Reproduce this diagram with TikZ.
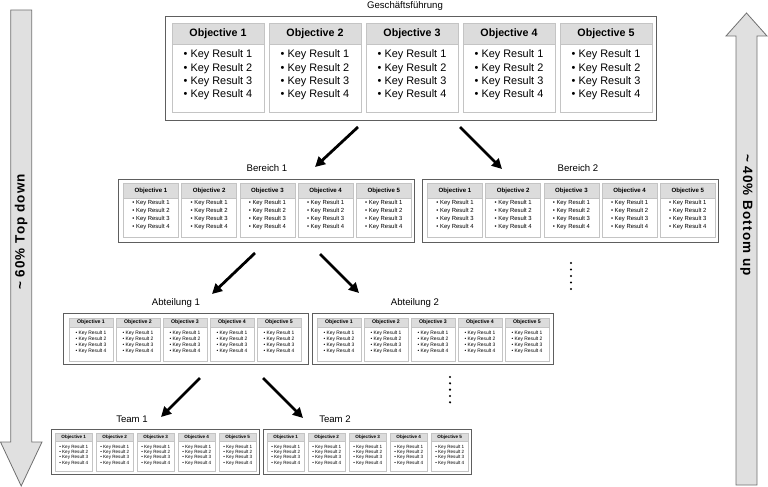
\documentclass[tikz,border=0pt]{standalone}
\usepackage{fontspec}
\setmainfont{Liberation Sans}
\usetikzlibrary{arrows.meta,calc}
\definecolor{hdr}{HTML}{DCDCDC}
\definecolor{cardedge}{HTML}{C4C4C4}
\definecolor{boxedge}{HTML}{5E5E5E}
\definecolor{sidefill}{HTML}{E0E0E0}
\definecolor{sideedge}{HTML}{707070}
\tikzset{
  cardline/.style={draw=cardedge, line width=0.6pt},
  outerbox/.style={draw=boxedge, line width=1.4pt, fill=white, inner sep=0pt, anchor=north west},
  sidearrow/.style={draw=sideedge, line width=0.8pt, fill=sidefill, line join=miter},
  bigarrow/.style={line width=2.8pt, -{Triangle[length=10pt,width=10pt]}},
  grouplabel/.style={font=\fontsize{9.6}{11}\selectfont, inner sep=0pt},
  sidelabel/.style={font=\fontsize{13.5}{15}\selectfont\bfseries\addfontfeatures{LetterSpace=8}, inner sep=0pt},
  dot/.style={circle, fill=black, inner sep=0pt, minimum size=2.4pt}
}
% level parameters
\newcommand\setlevel[9]{\def\Lw{#1}\def\Lp{#2}\def\Lht{#3}\def\Lhb{#4}\def\Lcb{#5}\def\Lhy{#6}\def\Lly{#7}\def\Lfs{#8}\def\Lls{#9}}
\newcommand\okrcards[3]{%
\foreach \i in {1,...,5}{%
 \pgfmathsetmacro\xl{#2+(\i-1)*\Lp}%
 \pgfmathsetmacro\xr{\xl+\Lw}%
 \pgfmathsetmacro\xc{\xl+0.5*\Lw}%
 \pgfmathsetmacro\ya{#3+\Lht}%
 \pgfmathsetmacro\yb{#3+\Lhb}%
 \pgfmathsetmacro\yc{#3+\Lcb}%
 \pgfmathsetmacro\yt{#3+\Lhy}%
 \pgfmathsetmacro\yl{#3+\Lly}%
 \draw[cardline,fill=white] (\xl,\yb) rectangle (\xr,\yc);
 \draw[cardline,fill=hdr] (\xl,\ya) rectangle (\xr,\yb);
 \node[font=\fontsize{\Lhs}{\Lhs}\selectfont\bfseries, inner sep=0pt] (#1h\i) at (\xc,\yt) {Objective \i};
 \node[font=\fontsize{\Lfs}{\Lls}\selectfont, align=left, inner sep=0pt] (#1k\i) at (\xc,\yl)
   {\textbullet\ Key Result 1\\\textbullet\ Key Result 2\\\textbullet\ Key Result 3\\\textbullet\ Key Result 4};
}}
\begin{document}
\begin{tikzpicture}[x=1pt,y=-1pt]
\useasboundingbox (0,0) rectangle (768,487);

% side arrows
\draw[sidearrow] (10.7,10) -- (31.7,10) -- (31.7,442) -- (42,442) -- (21.2,486) -- (0.5,442) -- (10.7,442) -- cycle;
\node[sidelabel, rotate=90] (topdown) at (21.2,232) {\textasciitilde\ 60\% Top down};
\draw[sidearrow] (736,485) -- (736,36) -- (726,36) -- (746.5,13) -- (767,36) -- (757,36) -- (757,485) -- cycle;
\node[sidelabel, rotate=-90] (bottomup) at (746.5,215) {\textasciitilde\ 40\% Bottom up};

% level 1
\node[outerbox, minimum width=491pt, minimum height=104pt] (gf) at (165,16) {};
\node[grouplabel] (gfl) at (405,6) {Geschäftsführung};
\def\Lhs{10.7}
\setlevel{92}{97}{7}{28}{96}{18}{59}{10.9}{13.4}
\okrcards{gf}{172}{16}

% level 2
\def\Lhs{6.1}
\setlevel{55}{58.2}{4}{19}{58}{12}{36}{5.9}{8}
\node[outerbox, minimum width=296pt, minimum height=63pt] (b1) at (118,179) {};
\node[grouplabel] (b1l) at (267,168) {Bereich 1};
\okrcards{bA}{123.5}{179}
\node[outerbox, minimum width=296pt, minimum height=63pt] (b2) at (422,179) {};
\node[grouplabel] (b2l) at (578,168) {Bereich 2};
\okrcards{bB}{427.5}{179}

% level 3
\def\Lhs{5.2}
\setlevel{44}{47}{5}{14}{48}{9.5}{29}{4.9}{6.1}
\node[outerbox, minimum width=245pt, minimum height=51pt] (a1) at (63,313) {};
\node[grouplabel] (a1l) at (176,303) {Abteilung 1};
\okrcards{aA}{69}{313}
\node[outerbox, minimum width=241pt, minimum height=51pt] (a2) at (312,313) {};
\node[grouplabel] (a2l) at (415,303) {Abteilung 2};
\okrcards{aB}{317}{313}

% level 4
\def\Lhs{4.6}
\setlevel{37.5}{41}{4}{12}{42}{8}{26}{4.6}{5.4}
\node[outerbox, minimum width=208pt, minimum height=45pt] (t1) at (51,429) {};
\node[grouplabel] (t1l) at (132,419) {Team 1};
\okrcards{tA}{55}{429}
\node[outerbox, minimum width=208pt, minimum height=45pt] (t2) at (263,429) {};
\node[grouplabel] (t2l) at (335,419) {Team 2};
\okrcards{tB}{267}{429}

% continuation dots
\foreach \k/\yy in {1/263,2/269.5,3/276,4/282.5,5/289}
  \node[dot] (dA\k) at (571,\yy) {};
\foreach \k/\yy in {1/377,2/383.3,3/389.6,4/396,5/402.3}
  \node[dot] (dB\k) at (450,\yy) {};

% arrows
\coordinate (g1s) at (358,127); \coordinate (g1e) at (315,167);
\coordinate (g2s) at (460,127); \coordinate (g2e) at (502,169);
\coordinate (b1s) at (255,253); \coordinate (b1e) at (212,294);
\coordinate (b2s) at (320,254); \coordinate (b2e) at (359,293);
\coordinate (a1s) at (200,378); \coordinate (a1e) at (161,417);
\coordinate (a2s) at (263,378); \coordinate (a2e) at (303,418);
\draw[bigarrow] (g1s) -- (g1e);
\draw[bigarrow] (g2s) -- (g2e);
\draw[bigarrow] (b1s) -- (b1e);
\draw[bigarrow] (b2s) -- (b2e);
\draw[bigarrow] (a1s) -- (a1e);
\draw[bigarrow] (a2s) -- (a2e);
\end{tikzpicture}
\end{document}
